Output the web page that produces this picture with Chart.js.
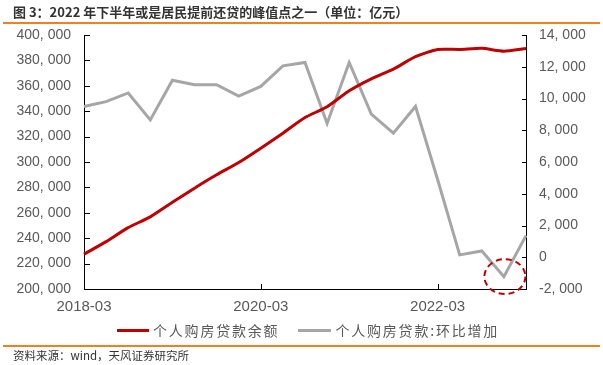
<!DOCTYPE html>
<html><head><meta charset="utf-8">
<script src="https://cdn.jsdelivr.net/npm/chart.js@4.4.0/dist/chart.umd.min.js"></script>
<style>
html,body{margin:0;padding:0;background:#fff;}
#wrap{position:relative;width:603px;height:365px;overflow:hidden;background:#fff;}
#c{position:absolute;left:0;top:0;}
.title{position:absolute;left:13px;top:3px;font:bold 13px "Noto Sans CJK SC",sans-serif;color:#333;white-space:nowrap;line-height:18px;}
.rule{position:absolute;left:3px;width:597px;height:2px;background:#F0821E;}
.src{position:absolute;left:13px;top:347px;font:11.5px "Noto Sans CJK SC",sans-serif;color:#333;white-space:nowrap;line-height:16px;}
#legend{position:absolute;left:117px;top:321px;height:18px;display:flex;align-items:center;white-space:nowrap;}
.sw{display:inline-block;height:3px;}
.lt{font:14px "Noto Sans CJK SC",sans-serif;color:#595959;letter-spacing:1.8px;line-height:18px;}
</style></head>
<body>
<div id="wrap">
<canvas id="c" width="603" height="365"></canvas>
<div class="title">图 3：2022 年下半年或是居民提前还贷的峰值点之一（单位：亿元）</div>
<div class="rule" style="top:22px"></div>
<div id="legend"></div>
<div class="rule" style="top:345px"></div>
<div class="src">资料来源：wind，天风证券研究所</div>
</div>
<script>
const categories = ['2018-03','2018-06','2018-09','2018-12','2019-03','2019-06','2019-09','2019-12','2020-03','2020-06','2020-09','2020-12','2021-03','2021-06','2021-09','2021-12','2022-03','2022-06','2022-09','2022-12','2023-03'];
const balance = [227400,237300,248300,256800,268300,279400,289900,299600,310900,322700,335000,343500,356100,365500,373200,382900,388600,388600,389500,387300,389400];
const increase = [9500,9800,10350,8650,11150,10870,10870,10150,10760,12060,12270,8430,12270,9020,7820,9500,4900,150,400,-1220,1360];
const tickLabels = ['2018-03','2020-03','2022-03'];
const seriesNames = ['个人购房贷款余额','个人购房贷款:环比增加'];
const highlightIndex = 19;

const RED = '#C00000', GRAY = '#A6A6A6';
const fmt = v => {
  const s = Math.abs(v).toLocaleString('en-US').replace(/,/g, ', ');
  return (v < 0 ? '-' : '') + s;
};

const tickPlugin = {
  id: 'inTicks',
  afterDraw(chart) {
    const {ctx, chartArea: a, scales} = chart;
    ctx.save();
    ctx.strokeStyle = '#000';
    ctx.lineWidth = 1;
    ctx.beginPath();
    scales.y.ticks.forEach(t => {
      const y = Math.round(scales.y.getPixelForValue(t.value)) + 0.5;
      ctx.moveTo(a.left, y); ctx.lineTo(a.left + 6, y);
    });
    scales.y1.ticks.forEach(t => {
      const y = Math.round(scales.y1.getPixelForValue(t.value)) + 0.5;
      ctx.moveTo(a.right, y); ctx.lineTo(a.right - 4, y);
    });
    categories.forEach((c, i) => {
      if (tickLabels.includes(c)) {
        const x = Math.round(scales.x.getPixelForValue(i)) + 0.5;
        ctx.moveTo(x, a.bottom); ctx.lineTo(x, a.bottom - 5);
      }
    });
    ctx.stroke();
    const p = chart.getDatasetMeta(1).data[highlightIndex];
    ctx.beginPath();
    ctx.setLineDash([6, 4]);
    ctx.strokeStyle = RED;
    ctx.lineWidth = 2;
    ctx.ellipse(p.x + 1, p.y, 20.5, 17.5, 0, 0, Math.PI * 2);
    ctx.stroke();
    ctx.restore();
  }
};

const tickFont = {family: '"Liberation Sans", Arial, sans-serif', size: 14};
const chart = new Chart(document.getElementById('c'), {
  type: 'line',
  data: {
    labels: categories,
    datasets: [
      {label: seriesNames[0], data: balance, yAxisID: 'y', borderColor: RED, backgroundColor: RED, borderWidth: 3, pointRadius: 0, tension: 0.2},
      {label: seriesNames[1], data: increase, yAxisID: 'y1', borderColor: GRAY, backgroundColor: GRAY, borderWidth: 3, pointRadius: 0, tension: 0}
    ]
  },
  options: {
    responsive: false,
    animation: false,
    devicePixelRatio: 1,
    layout: {padding: {top: 35, left: 0, right: 0, bottom: 36}},
    plugins: {legend: {display: false}, tooltip: {enabled: false}},
    scales: {
      x: {
        type: 'category',
        offset: false,
        grid: {display: false, drawTicks: false},
        border: {display: true, color: '#000', width: 1},
        ticks: {autoSkip: false, maxRotation: 0, padding: 9, color: '#595959', font: {family: tickFont.family, size: 15},
          callback: function(v, i) { const l = categories[i]; return tickLabels.includes(l) ? l : ''; }},
        afterFit: s => { s.height = 40; }
      },
      y: {
        position: 'left', min: 200000, max: 400000,
        grid: {display: false, drawTicks: false},
        border: {display: true, color: '#000', width: 1},
        ticks: {stepSize: 20000, padding: 13, color: '#595959', font: tickFont, callback: v => fmt(v)},
        afterFit: s => { s.width = 84; }
      },
      y1: {
        position: 'right', min: -2000, max: 14000,
        grid: {display: false, drawTicks: false},
        border: {display: true, color: '#000', width: 1},
        ticks: {stepSize: 2000, padding: 13, color: '#595959', font: tickFont, callback: v => fmt(v)},
        afterFit: s => { s.width = 77; }
      }
    }
  },
  plugins: [tickPlugin]
});

const lg = document.getElementById('legend');
const swW = [32, 33], gapAfterSw = [4, 4];
chart.data.datasets.forEach((ds, i) => {
  const sw = document.createElement('span');
  sw.className = 'sw';
  sw.style.width = swW[i] + 'px';
  sw.style.background = ds.borderColor;
  sw.style.marginRight = gapAfterSw[i] + 'px';
  if (i > 0) sw.style.marginLeft = '19px';
  const t = document.createElement('span');
  t.className = 'lt';
  t.textContent = ds.label;
  lg.appendChild(sw); lg.appendChild(t);
});
</script>
</body></html>
